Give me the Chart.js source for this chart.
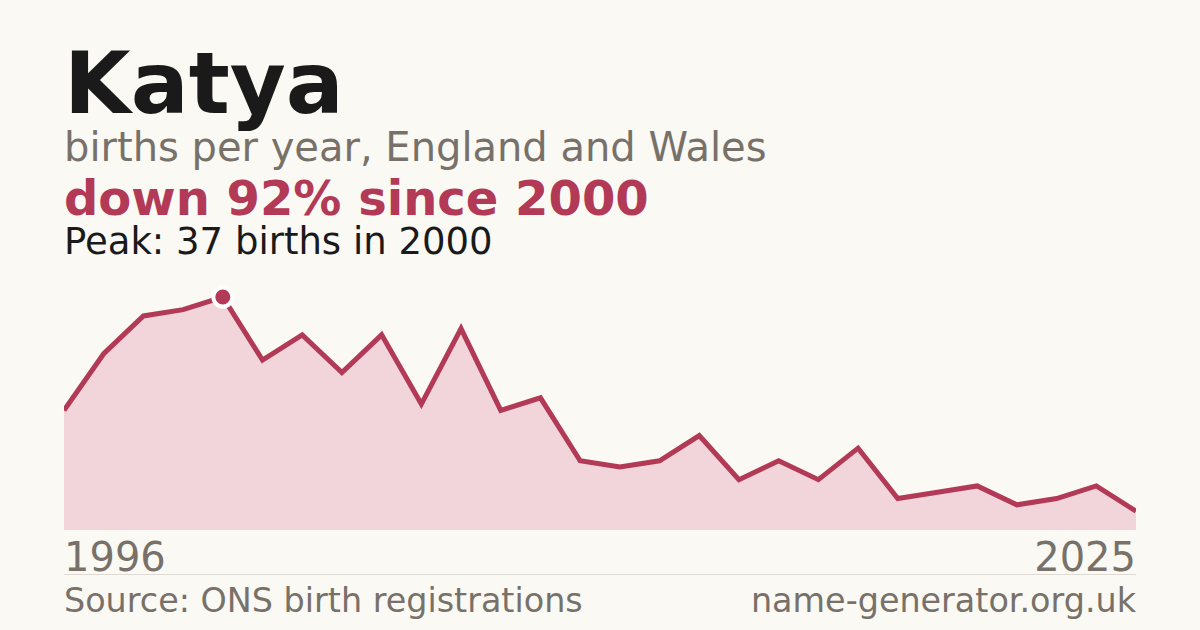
<!DOCTYPE html>
<html>
<head>
<meta charset="utf-8">
<script src="https://cdn.jsdelivr.net/npm/chart.js@4/dist/chart.umd.min.js"></script>
<style>
  html, body { margin: 0; padding: 0; }
  body { width: 1200px; height: 630px; background: #faf9f4; position: relative; overflow: hidden; font-family: "DejaVu Sans", sans-serif; }
  .t { position: absolute; left: 64px; white-space: nowrap; line-height: 1; }
  #title { top: 40px; font-size: 86px; font-weight: bold; color: #1a1a1a; }
  #sub { top: 127px; font-size: 40px; color: #78716a; }
  #delta { top: 174px; font-size: 48px; font-weight: bold; color: #b23a57; }
  #peak { top: 223px; font-size: 37px; color: #1a1a1a; }
  #chartBox { position: absolute; left: 64px; top: 270px; width: 1072px; height: 260px; }
  .yr { position: absolute; top: 537px; font-size: 40px; color: #78716a; line-height: 1; }
  #yrL { left: 64px; }
  #yrR { right: 64px; }
  #rule { position: absolute; left: 64px; top: 574px; width: 1072px; height: 1px; background: #dedad3; }
  .ft { position: absolute; top: 584px; font-size: 33.4px; color: #78716a; line-height: 1; white-space: nowrap; }
  #src { left: 64px; }
  #site { right: 64px; }
</style>
</head>
<body>
<div class="t" id="title"></div>
<div class="t" id="sub"></div>
<div class="t" id="delta"></div>
<div class="t" id="peak"></div>
<div id="chartBox"><canvas id="c"></canvas></div>
<div class="yr" id="yrL"></div>
<div class="yr" id="yrR"></div>
<div id="rule"></div>
<div class="ft" id="src">Source: ONS birth registrations</div>
<div class="ft" id="site">name-generator.org.uk</div>
<script>
const nameText = "Katya";
const subtitle = "births per year, England and Wales";
const years = [1996,1997,1998,1999,2000,2001,2002,2003,2004,2005,2006,2007,2008,2009,2010,2011,2012,2013,2014,2015,2016,2017,2018,2019,2022,2023,2024,2025];
const births = [19,28,34,35,37,27,31,25,31,20,32,19,21,11,10,11,15,8,11,8,13,5,6,7,4,5,7,3];
const peakYear = 2000;
const peakValue = 37;
const changePct = 92;

document.getElementById('title').textContent = nameText;
document.getElementById('sub').textContent = subtitle;
document.getElementById('delta').textContent = 'down ' + changePct + '% since ' + peakYear;
document.getElementById('peak').textContent = 'Peak: ' + peakValue + ' births in ' + peakYear;
document.getElementById('yrL').textContent = years[0];
document.getElementById('yrR').textContent = years[years.length - 1];

const peakIdx = years.indexOf(peakYear);
const radii = births.map((v, i) => i === peakIdx ? 9.5 : 0);

new Chart(document.getElementById('c'), {
  type: 'line',
  data: {
    labels: years.map(String),
    datasets: [{
      data: births,
      borderColor: '#b23a57',
      borderWidth: 5,
      backgroundColor: '#f1d5db',
      fill: 'origin',
      tension: 0,
      pointRadius: radii,
      pointHoverRadius: radii,
      pointBackgroundColor: '#b23a57',
      pointBorderColor: '#ffffff',
      pointBorderWidth: 4,
      clip: false
    }]
  },
  options: {
    responsive: true,
    maintainAspectRatio: false,
    animation: false,
    events: [],
    layout: { padding: 0 },
    plugins: { legend: { display: false }, tooltip: { enabled: false } },
    scales: {
      x: { display: false, offset: false },
      y: { display: false, min: 0, max: 41.3 }
    }
  }
});
</script>
</body>
</html>
